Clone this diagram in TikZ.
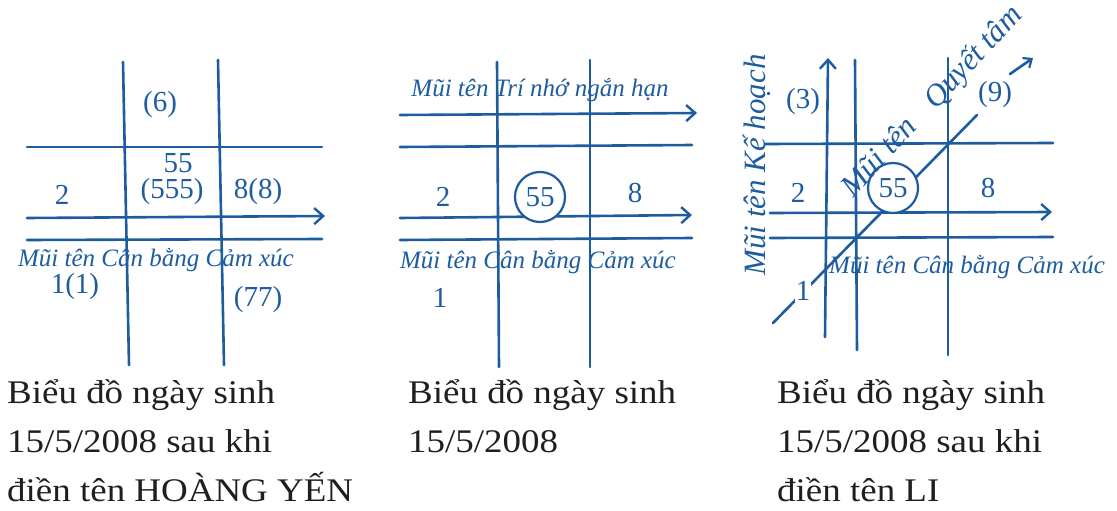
\documentclass[tikz,border=0pt]{standalone}
\usepackage{fontspec}
\setmainfont{Liberation Serif}
\newfontfamily\capfont[FakeStretch=1.12]{Liberation Serif}
\newfontfamily\handfont{Liberation Serif}
\usetikzlibrary{arrows.meta}
\definecolor{ink}{RGB}{30,92,160}
\tikzset{
  grid/.style={draw=ink, line width=2.6pt, line cap=round},
  arr/.style={grid, -{Straight Barb[length=9pt,width=16pt,line width=2.4pt]}},
  hand/.style={text=ink, font=\handfont\itshape\fontsize{25}{28}\selectfont, inner sep=1pt},
  bighand/.style={hand, font=\handfont\itshape\fontsize{31}{34}\selectfont, inner sep=0pt},
  num/.style={text=ink, font=\handfont\fontsize{29}{32}\selectfont, inner sep=1pt},
  ring/.style={circle, draw=ink, line width=2.2pt, fill=white, minimum size=50pt, inner sep=0pt, text=ink, font=\handfont\fontsize{29}{32}\selectfont},
  captext/.style={anchor=base west, inner sep=0pt, font=\capfont\fontsize{33}{40}\selectfont, text=black!88}
}
\begin{document}
\begin{tikzpicture}[x=1pt,y=-1pt]
\fill[white] (0,0) rectangle (1117,511);
\useasboundingbox (0,0) rectangle (1117,511);

% ---------- Panel 1 ----------
\draw[grid] (123,62) -- (129,365);
\draw[grid] (218,60) -- (224,365);
\draw[grid] (27,147) -- (322,147);
\draw[arr]  (27,218) -- (325,216);
\draw[grid] (27,240) -- (322,239);
\node[num] (a6) at (160,105) {(6)};
\node[num] (a55) at (178,163) {55};
\node[num] (a555) at (172,192) {(555)};
\node[num] (a88) at (258,192) {8(8)};
\node[num] (a2) at (62,195) {2};
\node[hand] (acb) at (156,260) {Mũi tên Cân bằng Cảm xúc};
\node[num] (a11) at (75,287) {1(1)};
\node[num] (a77) at (258,300) {(77)};

% ---------- Panel 2 ----------
\draw[grid] (497,62) -- (499,367);
\draw[grid] (590,60) -- (590,367);
\node[hand] (btn) at (540,90) {Mũi tên Trí nhớ ngắn hạn};
\draw[arr]  (400,115) -- (697,113);
\draw[grid] (400,147) -- (692,145);
\draw[arr]  (400,218) -- (692,215);
\draw[grid] (400,240) -- (692,238);
\node[num] (b2) at (443,197) {2};
\node[ring] (b55) at (540,197) {55};
\node[num] (b8) at (635,193) {8};
\node[hand] (bcb) at (538,262) {Mũi tên Cân bằng Cảm xúc};
\node[num] (b1) at (440,298) {1};

% ---------- Panel 3 ----------
\draw[arr]  (825,337) -- (828,58);
\draw[grid] (855,60) -- (857,350);
\draw[grid] (948,58) -- (948,355);
\draw[grid] (765,144) -- (1053,143);
\draw[arr]  (770,213) -- (1052,212);
\draw[grid] (770,238) -- (1053,237);
\draw[grid] (773,323) -- (977,115);
\node[num, fill=white] (c1) at (803,291) {1};
\node[ring] (c55) at (893,188) {55};
\node[bighand, rotate=90] (ckh) at (757,165) {Mũi tên Kế hoạch};
\node[bighand, rotate=47] (cmt) at (878,156) {Mũi tên};
\node[bighand, rotate=47] (cqt) at (974,58) {Quyết tâm};
\node[num] (c3) at (803,102) {(3)};
\node[num] (c2) at (798,193) {2};
\node[num] (c8) at (988,188) {8};
\node[num] (c9) at (995,95) {(9)};
\coordinate (c9s) at (1010,74);
\coordinate (c9e) at (1033,58);
\draw[grid, -{Straight Barb[length=7pt,width=12pt,line width=2.2pt]}] (c9s) -- (c9e);
\node[hand] (ccb) at (967,267) {Mũi tên Cân bằng Cảm xúc};

% ---------- Captions ----------
\node[captext] (t11) at (7,403) {Biểu đồ ngày sinh};
\node[captext] (t12) at (7,452) {15/5/2008 sau khi};
\node[captext] (t13) at (7,501) {điền tên HOÀNG YẾN};
\node[captext] (t21) at (408,403) {Biểu đồ ngày sinh};
\node[captext] (t22) at (408,452) {15/5/2008};
\node[captext] (t31) at (777,403) {Biểu đồ ngày sinh};
\node[captext] (t32) at (777,452) {15/5/2008 sau khi};
\node[captext] (t33) at (777,501) {điền tên LI};
\end{tikzpicture}
\end{document}
